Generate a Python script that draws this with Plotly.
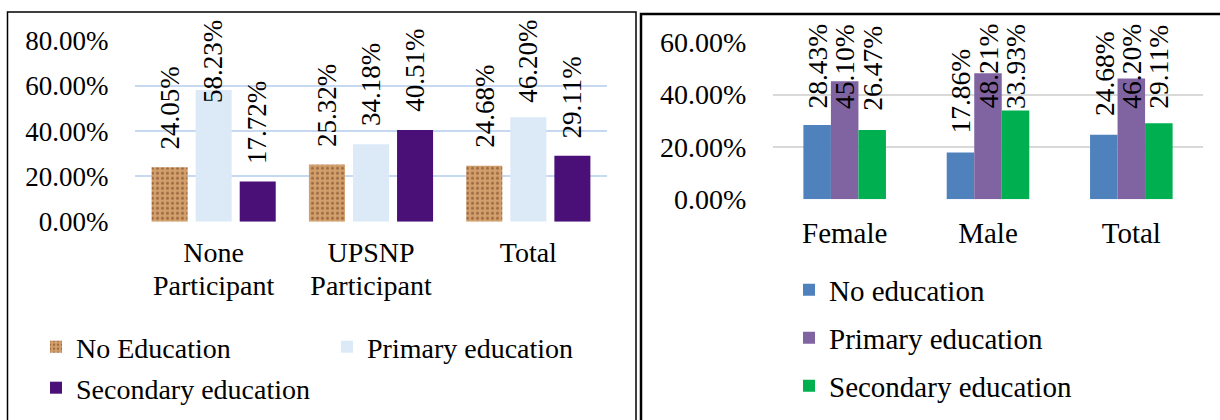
import plotly.graph_objects as go

W, H = 1220, 420

# ---------------- data ----------------
left_categories = ["None Participant", "UPSNP Participant", "Total"]
left_tick_line1 = ["None", "UPSNP", "Total"]
left_tick_line2 = ["Participant", "Participant", ""]
left_series = ["No Education", "Primary education", "Secondary education"]
left_no_education = [24.05, 25.32, 24.68]
left_primary = [58.23, 34.18, 46.20]
left_secondary = [17.72, 40.51, 29.11]
left_yticks = [0, 20, 40, 60, 80]

right_categories = ["Female", "Male", "Total"]
right_series = ["No education", "Primary education", "Secondary education"]
right_no_education = [28.43, 17.86, 24.68]
right_primary = [45.10, 48.21, 46.20]
right_secondary = [26.47, 33.93, 29.11]
right_yticks = [0, 20, 40, 60]

# ---------------- style ----------------
FONT = "Liberation Serif, Times New Roman, serif"


def px(x):
    return x / W


def py(y):
    return 1 - y / H


left_colors = ["#D2A06C", "#DCEAF8", "#4A1078"]
right_colors = ["#4F81BD", "#8064A2", "#00B050"]

left_bar_w, left_step = 0.229, 0.28
right_bar_w, right_step = 0.192, 0.192

fig = go.Figure()

left_values = [left_no_education, left_primary, left_secondary]
right_values = [right_no_education, right_primary, right_secondary]
left_legends = ["legend", "legend", "legend2"]
right_legends = ["legend3", "legend4", "legend5"]

annotations = []

for i, (name, vals) in enumerate(zip(left_series, left_values)):
    center = (i - 1) * left_step
    marker = dict(color=left_colors[i], line=dict(width=0))
    if i == 0:
        marker["pattern"] = dict(shape=".", fgcolor="#8A5430", bgcolor=left_colors[i],
                                 size=5, solidity=0.3, fgopacity=0.7)
    fig.add_trace(go.Bar(
        x=left_categories, y=vals, name=name, marker=marker,
        width=left_bar_w, offset=center - left_bar_w / 2,
        xaxis="x", yaxis="y", legend=left_legends[i], hoverinfo="skip",
    ))
    for j, v in enumerate(vals):
        annotations.append(dict(
            x=j + center, y=min(v + 7.0, 51.6), xref="x", yref="y",
            text=f"{v:.2f}%", textangle=-90, showarrow=False,
            xanchor="center", yanchor="bottom",
            font=dict(family=FONT, size=27, color="black"),
        ))

# helper trace so the second tick-label row axis gets drawn
fig.add_trace(go.Scatter(x=[0, 1, 2], y=[None, None, None], xaxis="x3", yaxis="y",
                         showlegend=False, hoverinfo="skip", mode="markers"))

for i, (name, vals) in enumerate(zip(right_series, right_values)):
    center = (i - 1) * right_step
    fig.add_trace(go.Bar(
        x=right_categories, y=vals, name=name,
        marker=dict(color=right_colors[i], line=dict(width=0)),
        width=right_bar_w, offset=center - right_bar_w / 2,
        xaxis="x2", yaxis="y2", legend=right_legends[i], hoverinfo="skip",
    ))
    for j, v in enumerate(vals):
        annotations.append(dict(
            x=j + center, y=min(v + 6.5, 33.8), xref="x2", yref="y2",
            text=f"{v:.2f}%", textangle=-90, showarrow=False,
            xanchor="center", yanchor="bottom",
            font=dict(family=FONT, size=27.5, color="black"),
        ))

tick_hide = dict(ticks="outside", tickcolor="rgba(0,0,0,0)")

shapes = [
    dict(type="rect", xref="paper", yref="paper", x0=px(7.5), x1=px(636), y0=-0.1, y1=py(12),
         line=dict(color="black", width=1.5), layer="above"),
    dict(type="rect", xref="paper", yref="paper", x0=px(641), x1=1.1, y0=-0.1, y1=py(14),
         line=dict(color="black", width=2.5), layer="above"),
]

legend_common = dict(bgcolor="rgba(0,0,0,0)", borderwidth=0, xanchor="left", yanchor="middle",
                     traceorder="normal")

fig.update_layout(
    width=W, height=H,
    margin=dict(l=0, r=0, t=0, b=0, autoexpand=False),
    paper_bgcolor="white", plot_bgcolor="white",
    barmode="overlay",
    font=dict(family=FONT, color="black"),
    xaxis=dict(domain=[px(135), px(607)], anchor="y", type="category",
               categoryorder="array", categoryarray=left_categories,
               range=[-0.5, 2.5], tickmode="array", tickvals=left_categories,
               ticktext=left_tick_line1, ticklen=6, showgrid=False, zeroline=False,
               showline=False, tickfont=dict(family=FONT, size=28), **tick_hide),
    xaxis3=dict(overlaying="x", anchor="y", type="linear", range=[-0.5, 2.5],
                tickmode="array", tickvals=[0, 1, 2], ticktext=left_tick_line2,
                ticklen=39, showgrid=False, zeroline=False, showline=False,
                tickfont=dict(family=FONT, size=28), side="bottom", **tick_hide),
    yaxis=dict(domain=[py(221.7), py(40.7)], anchor="x", range=[0, 80],
               tickmode="array", tickvals=left_yticks,
               ticktext=[f"{t:.2f}%" for t in left_yticks],
               showgrid=True, gridcolor="#C6D9F1", gridwidth=1.8, zeroline=False,
               showline=False, ticklen=20, tickfont=dict(family=FONT, size=27), **tick_hide),
    xaxis2=dict(domain=[px(773), px(1203)], anchor="y2", type="category",
                categoryorder="array", categoryarray=right_categories,
                range=[-0.5, 2.5], ticklen=8, showgrid=False, zeroline=False,
                showline=False, tickfont=dict(family=FONT, size=29), **tick_hide),
    yaxis2=dict(domain=[py(199.3), py(42.3)], anchor="x2", range=[0, 60],
                tickmode="array", tickvals=right_yticks,
                ticktext=[f"{t:.2f}%" for t in right_yticks],
                showgrid=True, gridcolor="#D9D9D9", gridwidth=1.8, zeroline=False,
                showline=False, ticklen=20, tickfont=dict(family=FONT, size=28), **tick_hide),
    legend=dict(x=px(36), y=py(347), orientation="h", entrywidth=246, entrywidthmode="pixels",
                font=dict(family=FONT, size=28), **legend_common),
    legend2=dict(x=px(36), y=py(388), orientation="h",
                 font=dict(family=FONT, size=28), **legend_common),
    legend3=dict(x=px(789), y=py(290), orientation="h",
                 font=dict(family=FONT, size=29), **legend_common),
    legend4=dict(x=px(789), y=py(338), orientation="h",
                 font=dict(family=FONT, size=29), **legend_common),
    legend5=dict(x=px(789), y=py(386), orientation="h",
                 font=dict(family=FONT, size=29), **legend_common),
    annotations=annotations,
    shapes=shapes,
    showlegend=True,
)

fig.write_html("out.html")
